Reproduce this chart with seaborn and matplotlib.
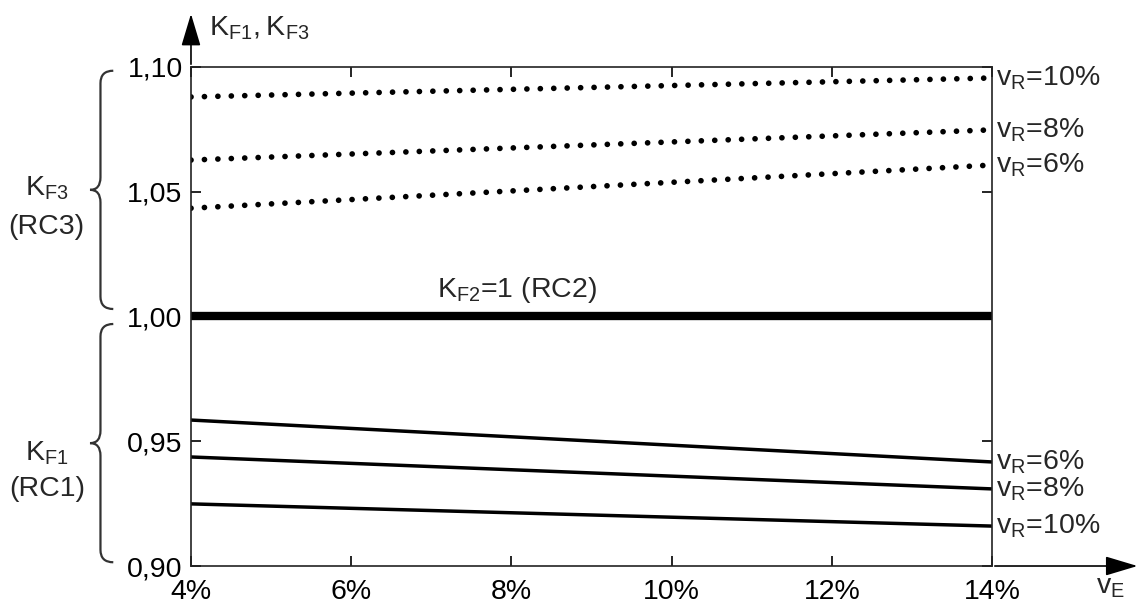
import numpy as np
import pandas as pd
import seaborn as sns
import matplotlib.pyplot as plt
from matplotlib.path import Path
from matplotlib.patches import PathPatch
from matplotlib.transforms import blended_transform_factory

# data
v_e = [4, 14]
v_r = [6, 8, 10]
kf3_6 = [1.0434, 1.0607]
kf3_8 = [1.0627, 1.0748]
kf3_10 = [1.0880, 1.0956]
kf1_6 = [0.9585, 0.9417]
kf1_8 = [0.9437, 0.9309]
kf1_10 = [0.9249, 0.9160]
kf2 = [1.0, 1.0]

yticks = [0.90, 0.95, 1.00, 1.05, 1.10]
ytick_labels = ["0,90", "0,95", "1,00", "1,05", "1,10"]
xticks = [4, 6, 8, 10, 12, 14]
xtick_labels = ["4%", "6%", "8%", "10%", "12%", "14%"]

sns.set_style("ticks")
plt.rcParams['font.family'] = ['Liberation Sans', 'DejaVu Sans']
plt.rcParams['mathtext.default'] = 'regular'
FS = 20.5

fig, ax = plt.subplots(figsize=(11.45, 6.04), dpi=100)
fig.subplots_adjust(left=0.1668, right=0.8664, top=0.8891, bottom=0.0629)

rows = []
for vr, a, b in zip(v_r, [kf3_6, kf3_8, kf3_10], [kf1_6, kf1_8, kf1_10]):
    for x, y3, y1 in zip(v_e, a, b):
        rows.append(dict(ve=x, vr=vr, rc="RC3", k=y3))
        rows.append(dict(ve=x, vr=vr, rc="RC1", k=y1))
df = pd.DataFrame(rows)

for vr in v_r:
    d3 = df[(df.rc == "RC3") & (df.vr == vr)]
    sns.lineplot(data=d3, x="ve", y="k", ax=ax, color="black", lw=4.1,
                 linestyle=(0, (0.01, 2.35)), dash_capstyle="round")
    d1 = df[(df.rc == "RC1") & (df.vr == vr)]
    sns.lineplot(data=d1, x="ve", y="k", ax=ax, color="black", lw=2.5)
    lab = r"$v_R$=%d%%" % vr
    ax.text(14.05, d3.k.iloc[-1], lab, fontsize=FS, ha="left", va="center", clip_on=False)
    ax.text(14.05, d1.k.iloc[-1], lab, fontsize=FS, ha="left", va="center", clip_on=False)

sns.lineplot(x=v_e, y=kf2, ax=ax, color="black", lw=6)
ax.text(8.07, 1.0106, r"$K_{F2}$=1 (RC2)", fontsize=FS, ha="center", va="center")

ax.set_xlim(4, 14)
ax.set_ylim(0.90, 1.10)
ax.set_xticks(xticks)
ax.set_xticklabels(xtick_labels, fontsize=FS)
ax.set_yticks(yticks)
ax.set_yticklabels(ytick_labels, fontsize=FS)
ax.set_xlabel("")
ax.set_ylabel("")
ax.tick_params(direction="in", top=True, right=True, length=7, width=1.2,
               pad=6, colors="black")
ax.tick_params(axis="x", pad=9)
for s in ax.spines.values():
    s.set_visible(True)
    s.set_linewidth(1.2)
    s.set_color("#222222")

# axis arrows
ax.annotate("", xy=(0, 1.112), xytext=(0, 1.0), xycoords="axes fraction",
            arrowprops=dict(arrowstyle="-|>,head_length=2.0,head_width=0.6",
                            lw=1.2, color="black"), annotation_clip=False)
ax.annotate("", xy=(1.185, 0), xytext=(1.0, 0), xycoords="axes fraction",
            arrowprops=dict(arrowstyle="-|>,head_length=2.0,head_width=0.6",
                            lw=1.2, color="black"), annotation_clip=False)
ax.text(0.022, 1.078, r"$K_{F1}, K_{F3}$", transform=ax.transAxes, fontsize=FS,
        ha="left", va="center", clip_on=False)
ax.text(1.148, -0.042, r"$v_E$", transform=ax.transAxes, fontsize=FS,
        ha="center", va="center", clip_on=False)

# curly braces on the left
tr = blended_transform_factory(ax.transAxes, ax.transData)


def brace(y0, y1, xr=-0.097, xv=-0.113, xm=-0.126, d=0.005):
    ym = (y0 + y1) / 2
    verts = [(xr, y1), (xv, y1), (xv, y1 - d),
             (xv, ym + d), (xv, ym), (xm, ym),
             (xv, ym), (xv, ym - d),
             (xv, y0 + d), (xv, y0), (xr, y0)]
    codes = [Path.MOVETO, Path.CURVE3, Path.CURVE3,
             Path.LINETO, Path.CURVE3, Path.CURVE3,
             Path.CURVE3, Path.CURVE3,
             Path.LINETO, Path.CURVE3, Path.CURVE3]
    p = PathPatch(Path(verts, codes), transform=tr, fill=False,
                  lw=1.6, edgecolor="#333333", clip_on=False)
    ax.add_patch(p)


brace(1.003, 1.0985)
brace(0.9015, 0.997)

ax.text(-0.1800, 1.0513, r"$K_{F3}$", transform=tr, fontsize=FS, ha="center", va="center")
ax.text(-0.1800, 1.0360, "(RC3)", transform=tr, fontsize=FS, ha="center", va="center")
ax.text(-0.1800, 0.9450, r"$K_{F1}$", transform=tr, fontsize=FS, ha="center", va="center")
ax.text(-0.1800, 0.9310, "(RC1)", transform=tr, fontsize=FS, ha="center", va="center")

fig.savefig("out.png", dpi=100)
